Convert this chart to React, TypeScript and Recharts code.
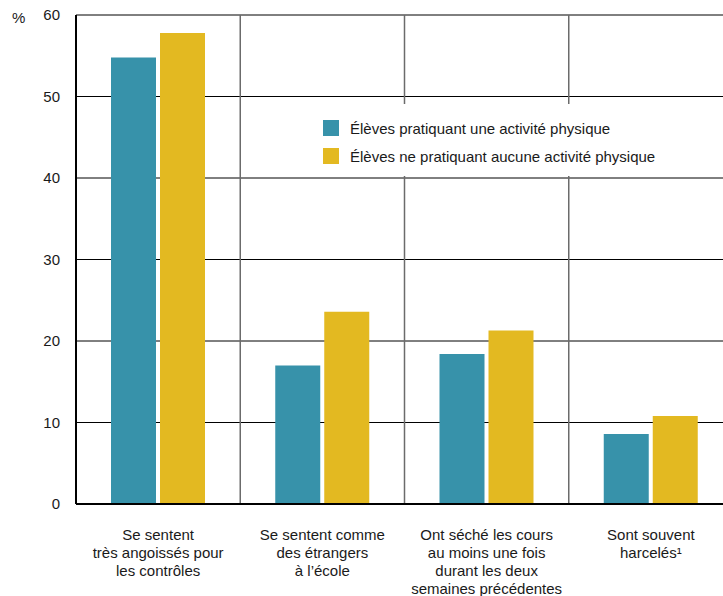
import { BarChart, Bar, XAxis, YAxis, CartesianGrid } from "recharts";

const categories = ["angoisse", "etrangers", "seche", "harceles"];

const categoryLines: string[][] = [
  ["Se sentent", "très angoissés pour", "les contrôles"],
  ["Se sentent comme", "des étrangers", "à l’école"],
  ["Ont séché les cours", "au moins une fois", "durant les deux", "semaines précédentes"],
  ["Sont souvent", "harcelés¹"],
];

const actifs = [54.8, 17, 18.4, 8.6];
const inactifs = [57.8, 23.6, 21.3, 10.8];

const yTicks = [0, 10, 20, 30, 40, 50, 60];

const series = [
  { key: "actifs", name: "Élèves pratiquant une activité physique", color: "#3792AA" },
  { key: "inactifs", name: "Élèves ne pratiquant aucune activité physique", color: "#E3B921" },
];

const data = categories.map((c, i) => ({
  cat: c,
  actifs: actifs[i],
  inactifs: inactifs[i],
}));

const FONT = '"Liberation Sans", Arial, Helvetica, sans-serif';

const CategoryTick = ({ x, y, payload }: any) => {
  const idx = categories.indexOf(payload.value);
  const lines = categoryLines[idx] || [];
  return (
    <text x={x} y={y + 28} textAnchor="middle" fill="#1a1a1a" fontSize={15} fontFamily={FONT}>
      {lines.map((l, i) => (
        <tspan key={i} x={x} dy={i === 0 ? 0 : 18}>
          {l}
        </tspan>
      ))}
    </text>
  );
};

// category boundaries (band starts), not centres
const boundaryLines = ({ xAxis, offset }: any) => {
  const s = xAxis?.scale;
  if (typeof s === "function") {
    return categories.slice(1).map((c) => s(c));
  }
  return [1, 2, 3].map((i) => offset.left + (i * offset.width) / categories.length);
};

export default function App() {
  return (
    <div
      style={{
        position: "fixed",
        left: 0,
        top: 0,
        width: 723,
        height: 596,
        overflow: "hidden",
        background: "#fff",
        fontFamily: FONT,
      }}
    >
      <div style={{ position: "absolute", left: 12, top: 9, fontSize: 15, color: "#1a1a1a" }}>%</div>
      <BarChart
        width={740}
        height={600}
        data={data}
        margin={{ top: 15, right: 7, bottom: 66, left: 0 }}
        barSize={45}
        barGap={4}
      >
        <CartesianGrid vertical={false} stroke="#000" strokeWidth={1} />
        <CartesianGrid
          horizontal={false}
          stroke="#6b6b6b"
          strokeWidth={1.5}
          verticalCoordinatesGenerator={boundaryLines}
        />
        <XAxis
          dataKey="cat"
          height={30}
          tickLine={false}
          axisLine={{ stroke: "#000", strokeWidth: 2 }}
          tick={<CategoryTick />}
          interval={0}
        />
        <YAxis
          width={76}
          domain={[0, 60]}
          ticks={yTicks}
          tickLine={false}
          tickSize={0}
          tickMargin={16}
          axisLine={{ stroke: "#000", strokeWidth: 2 }}
          tick={{ fill: "#1a1a1a", fontSize: 15, fontFamily: FONT }}
        />
        {series.map((s) => (
          <Bar key={s.key} dataKey={s.key} name={s.name} fill={s.color} isAnimationActive={false} />
        ))}
      </BarChart>
      {/* legend sits in a white box over the grid */}
      <div
        style={{
          position: "absolute",
          top: 104,
          left: 312,
          background: "#fff",
          padding: "10px 24px 6px 11px",
        }}
      >
        {series.map((s) => (
          <div key={s.key} style={{ display: "flex", alignItems: "center", height: 28 }}>
            <div style={{ width: 16, height: 16, background: s.color, marginRight: 11 }} />
            <span style={{ fontSize: 15, color: "#1a1a1a" }}>{s.name}</span>
          </div>
        ))}
      </div>
    </div>
  );
}
